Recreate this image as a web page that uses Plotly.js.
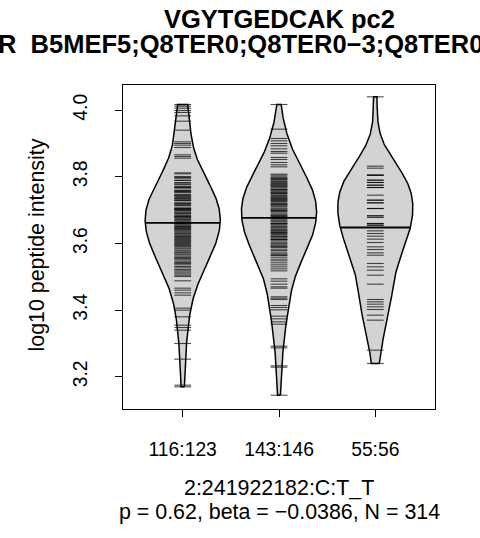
<!DOCTYPE html>
<html>
<head>
<meta charset="utf-8">
<script src="https://cdn.plot.ly/plotly-3.0.1.min.js"></script>
<style>html,body{margin:0;padding:0;background:#fff;}#chart{width:480px;height:538px;}</style>
</head>
<body>
<div id="chart"></div>
<script>
// ---- data ----
const categories = ['116:123', '143:146', '55:56'];
const yTickVals = [3.2, 3.4, 3.6, 3.8, 4.0];
const yTickText = ['3.2', '3.4', '3.6', '3.8', '4.0'];

const group1 = [
  4.017, 4.012, 4.006, 3.999, 3.993, 3.983, 3.967, 3.940, 3.905, 3.900, 3.895, 3.888, 3.866, 3.861, 3.856,
  3.812, 3.809, 3.801, 3.798, 3.796, 3.789, 3.783, 3.781, 3.777, 3.770,
  3.768, 3.766, 3.759, 3.755, 3.754, 3.748, 3.745, 3.741, 3.738, 3.733,
  3.730, 3.729, 3.724, 3.719, 3.716, 3.714, 3.709, 3.705, 3.702, 3.700,
  3.697, 3.693, 3.690, 3.688, 3.684, 3.681, 3.679, 3.676, 3.673, 3.671,
  3.668, 3.665, 3.662, 3.660, 3.658, 3.655, 3.652, 3.650, 3.647, 3.645,
  3.642, 3.640, 3.637, 3.634, 3.631, 3.629, 3.626, 3.623, 3.621, 3.618,
  3.615, 3.612, 3.609, 3.606, 3.603, 3.600, 3.597, 3.594, 3.591, 3.587,
  3.584, 3.580, 3.577, 3.573, 3.569, 3.566, 3.562, 3.558, 3.555, 3.551,
  3.547, 3.543, 3.540, 3.536, 3.531, 3.527, 3.522, 3.518, 3.514, 3.509,
  3.505, 3.501, 3.790, 3.772, 3.755, 3.700, 3.720,
  3.735, 3.662, 3.650, 3.680, 3.705, 3.745, 3.760,
  3.488, 3.466, 3.460, 3.452, 3.445, 3.406, 3.400, 3.380, 3.355, 3.348, 3.340, 3.300, 3.253, 3.175, 3.170
];

const group2 = [
  4.017, 3.943, 3.915, 3.908, 3.900, 3.893, 3.884, 3.876, 3.871, 3.858, 3.852, 3.843, 3.836, 3.830,
  3.808, 3.805, 3.800, 3.797, 3.792, 3.790, 3.786, 3.781, 3.779, 3.775,
  3.772, 3.770, 3.767, 3.763, 3.760, 3.757, 3.754, 3.750, 3.748, 3.744,
  3.741, 3.738, 3.735, 3.731, 3.729, 3.726, 3.722, 3.719, 3.716, 3.713,
  3.710, 3.706, 3.703, 3.699, 3.696, 3.692, 3.688, 3.685, 3.681, 3.678,
  3.675, 3.671, 3.668, 3.665, 3.661, 3.658, 3.655, 3.651, 3.648, 3.644,
  3.641, 3.637, 3.634, 3.630, 3.627, 3.623, 3.620, 3.616, 3.612, 3.608,
  3.604, 3.600, 3.596, 3.592, 3.588, 3.583, 3.579, 3.574, 3.569, 3.564,
  3.559, 3.553, 3.548, 3.542, 3.536, 3.530, 3.524, 3.518, 3.784, 3.762,
  3.633, 3.612, 3.592, 3.566,
  3.795, 3.776, 3.752, 3.733, 3.718, 3.700, 3.683, 3.660, 3.640, 3.620,
  3.494, 3.487, 3.478, 3.470, 3.466, 3.440, 3.436, 3.432, 3.414, 3.408,
  3.401, 3.382, 3.374, 3.365, 3.358, 3.292, 3.287, 3.233, 3.229, 3.145
];

const group3 = [
  4.040, 3.832, 3.826, 3.805, 3.805, 3.805, 3.790, 3.790, 3.783, 3.783,
  3.775, 3.775, 3.768, 3.768, 3.745, 3.730, 3.730, 3.722, 3.722, 3.705,
  3.705, 3.683, 3.683, 3.678, 3.660, 3.660, 3.655, 3.655, 3.648, 3.638,
  3.630, 3.622, 3.613, 3.603, 3.590, 3.582, 3.572, 3.565, 3.540, 3.530,
  3.520, 3.505, 3.478, 3.432, 3.425, 3.418, 3.410, 3.402, 3.385, 3.370,
  3.280, 3.240
];

const beanLines = [3.662, 3.677, 3.648];
const bandwidths = [0.075, 0.07, 0.075];

const titleText = 'VGYTGEDCAK pc2';
const subtitleText = 'R  B5MEF5;Q8TER0;Q8TER0\u22123;Q8TER0\u22122';
const yTitle = 'log10 peptide intensity';
const xTitle1 = '2:241922182:C:T_T';
const xTitle2 = 'p = 0.62, beta = \u22120.0386, N = 314';

// ---- drawing ----
const groups = [group1, group2, group3];
const FONT = 'Liberation Sans, Arial, Helvetica, sans-serif';
const maxHalf = 0.39;
const traces = [];

function density(vals, bw, y) {
  let s = 0;
  for (const v of vals) { const z = (y - v) / bw; s += Math.exp(-0.5 * z * z); }
  return s;
}

groups.forEach((vals, gi) => {
  const cx = gi + 1;
  const lo = Math.min(...vals), hi = Math.max(...vals);
  const n = 240, ys = [], ds = [];
  for (let i = 0; i < n; i++) {
    const y = lo + (hi - lo) * i / (n - 1);
    ys.push(y); ds.push(density(vals, bandwidths[gi], y));
  }
  const dmax = Math.max(...ds);
  const scale = maxHalf / dmax;
  const xs = [], yy = [];
  for (let i = 0; i < n; i++) { xs.push(cx + ds[i] * scale); yy.push(ys[i]); }
  for (let i = n - 1; i >= 0; i--) { xs.push(cx - ds[i] * scale); yy.push(ys[i]); }
  xs.push(xs[0]); yy.push(yy[0]);
  traces.push({
    type: 'scatter', mode: 'lines', x: xs, y: yy, fill: 'toself',
    fillcolor: 'rgb(211,211,211)', line: {color: '#000', width: 1.5}, hoverinfo: 'skip'
  });
  // data ticks
  traces.push({
    type: 'scatter', mode: 'markers', x: vals.map(() => cx), y: vals,
    marker: {symbol: 'line-ew-open', size: 12, color: 'rgba(0,0,0,0.7)', line: {width: 1.1, color: 'rgba(0,0,0,0.7)'}},
    hoverinfo: 'skip'
  });
  // bean line
  const m = beanLines[gi];
  const hw = density(vals, bandwidths[gi], m) * scale;
  traces.push({
    type: 'scatter', mode: 'lines', x: [cx - hw, cx + hw], y: [m, m],
    line: {color: '#000', width: 1.8}, hoverinfo: 'skip'
  });
});

const L = 123, R = 435, T = 85, B = 409;
const px2x = p => (p - L) / (R - L);
const px2y = p => (B - p) / (B - T);

const layout = {
  width: 480, height: 538,
  margin: {l: L, r: 480 - R, t: T, b: 538 - B, pad: 0},
  paper_bgcolor: '#fff', plot_bgcolor: '#fff',
  showlegend: false,
  font: {family: FONT, color: '#000'},
  xaxis: {
    range: [0.38, 3.62], tickvals: [1, 2, 3], ticktext: categories,
    ticks: 'outside', ticklen: 7, tickwidth: 1, tickcolor: '#000',
    showline: true, mirror: true, linecolor: '#000', linewidth: 1,
    showgrid: false, zeroline: false, tickfont: {size: 19.3, family: FONT},
    ticklabelstandoff: 16, fixedrange: true
  },
  yaxis: {
    range: [3.1035, 4.0755], tickvals: yTickVals, ticktext: yTickText,
    ticks: 'outside', ticklen: 7, tickwidth: 1, tickcolor: '#000',
    showline: true, mirror: true, linecolor: '#000', linewidth: 1,
    showgrid: false, zeroline: false, tickfont: {size: 19.3, family: FONT},
    tickangle: -90, ticklabelstandoff: 20, fixedrange: true
  },
  annotations: [
    {text: '<b>' + titleText + '</b>', xref: 'paper', yref: 'paper', x: 0.5, y: px2y(19),
     xanchor: 'center', yanchor: 'middle', showarrow: false, font: {size: 25.5, family: FONT}},
    {text: '<b>' + subtitleText + '</b>', xref: 'paper', yref: 'paper', x: px2x(-4), y: px2y(44),
     xanchor: 'left', yanchor: 'middle', showarrow: false, font: {size: 25.5, family: FONT}},
    {text: yTitle, xref: 'paper', yref: 'paper', x: px2x(36), y: px2y(245.5), textangle: -90,
     xanchor: 'center', yanchor: 'middle', showarrow: false, font: {size: 21.4, family: FONT}},
    {text: xTitle1, xref: 'paper', yref: 'paper', x: 0.5, y: px2y(488),
     xanchor: 'center', yanchor: 'middle', showarrow: false, font: {size: 21.4, family: FONT}},
    {text: xTitle2, xref: 'paper', yref: 'paper', x: 0.5, y: px2y(512),
     xanchor: 'center', yanchor: 'middle', showarrow: false, font: {size: 21.4, family: FONT}}
  ]
};

Plotly.newPlot('chart', traces, layout, {displayModeBar: false, staticPlot: true});
</script>
</body>
</html>
